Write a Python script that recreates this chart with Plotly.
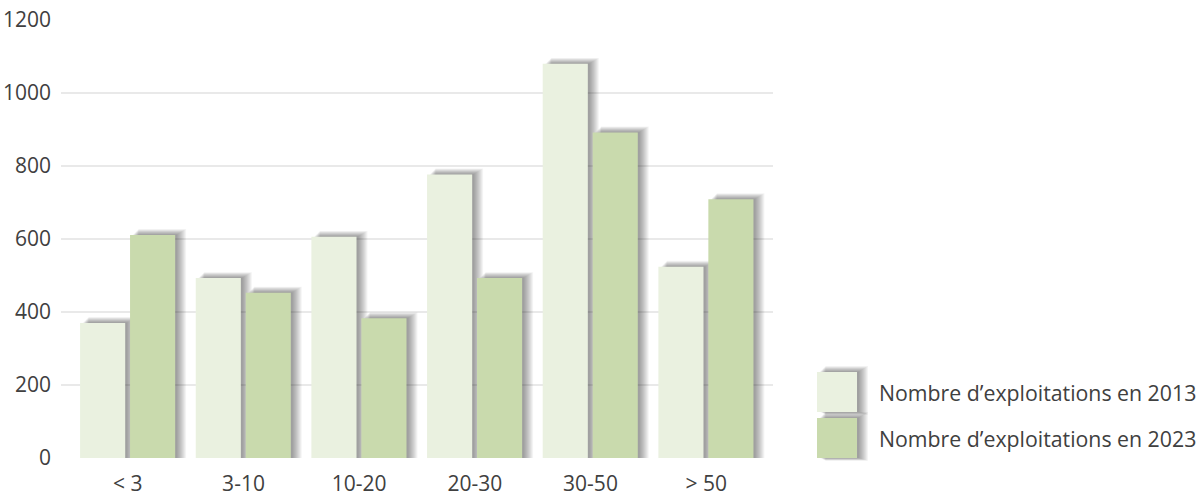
import plotly.graph_objects as go

categories = ["< 3", "3-10", "10-20", "20-30", "30-50", "> 50"]
values_2013 = [370, 493, 606, 777, 1080, 524]
values_2023 = [611, 453, 383, 493, 892, 709]
series_names = ["Nombre d’exploitations en 2013", "Nombre d’exploitations en 2023"]
y_ticks = [0, 200, 400, 600, 800, 1000, 1200]

color_2013 = "#EAF1E0"
color_2023 = "#C9DAAD"
text_color = "#404040"
font_family = "Open Sans, DejaVu Sans, sans-serif"

# geometry (layout)
W, H = 1200, 498
ml, mr, mt, mb = 61, 1200 - 773, 20, 40
plot_w = W - ml - mr
plot_h = H - mt - mb
x_lo, x_hi = -0.578, 5.578
y_lo, y_hi = 0, 1200
px_x = (x_hi - x_lo) / plot_w      # category units per pixel
px_y = (y_hi - y_lo) / plot_h      # value units per pixel

bar_w = 0.39
offsets = [-0.413, 0.019]
colors = [color_2013, color_2023]
series = [values_2013, values_2023]

fig = go.Figure()

# soft drop shadows (stacked translucent bars)
shadow_layers = [9, 8, 7, 6, 5, 4, 3, 2, 1, 0]
shadow_alpha = "rgba(0,0,0,0.045)"
for vals, off in zip(series, offsets):
    for e in shadow_layers:
        left_px = 3 + e * 0.6
        right_px = 2 + e
        top_px = 0.5 + e * 0.6
        fig.add_trace(go.Bar(
            x=categories,
            y=[v + top_px * px_y for v in vals],
            base=0,
            offset=off + left_px * px_x,
            width=bar_w + (right_px - left_px) * px_x,
            marker=dict(color=shadow_alpha, line=dict(width=0)),
            hoverinfo="skip", showlegend=False,
        ))

for vals, off, col, name in zip(series, offsets, colors, series_names):
    fig.add_trace(go.Bar(
        x=categories, y=vals, name=name,
        offset=off, width=bar_w,
        marker=dict(color=col, line=dict(width=0)),
        showlegend=False,
    ))

# custom legend (large swatches with shadow)
def px2paper_x(px):
    return (px - ml) / plot_w

def px2paper_y(py):
    return (H - mb - py) / plot_h

shapes = []
annotations = []
legend_rows = [(372, 412), (418, 458)]
sx0, sx1 = 817, 857
for (top, bot) in legend_rows:
    for e in shadow_layers:
        shapes.append(dict(
            type="rect", xref="paper", yref="paper",
            x0=px2paper_x(sx0 + 3 + e * 0.6), x1=px2paper_x(sx1 + 2 + e),
            y0=px2paper_y(bot + e * 0.3), y1=px2paper_y(top - 0.5 - e * 0.6),
            fillcolor=shadow_alpha, line=dict(width=0), layer="above",
        ))
for (top, bot), col, name in zip(legend_rows, colors, series_names):
    shapes.append(dict(
        type="rect", xref="paper", yref="paper",
        x0=px2paper_x(sx0), x1=px2paper_x(sx1),
        y0=px2paper_y(bot), y1=px2paper_y(top),
        fillcolor=col, line=dict(width=0), layer="above",
    ))
    annotations.append(dict(
        xref="paper", yref="paper",
        x=px2paper_x(877), y=px2paper_y((top + bot) / 2),
        xanchor="left", yanchor="middle", showarrow=False,
        text=name, font=dict(family=font_family, size=21.3, color=text_color),
    ))

fig.update_layout(
    width=W, height=H,
    margin=dict(l=ml, r=mr, t=mt, b=mb, autoexpand=False),
    barmode="overlay",
    plot_bgcolor="white", paper_bgcolor="white",
    font=dict(family=font_family, size=21, color=text_color),
    showlegend=False,
    shapes=shapes,
    annotations=annotations,
    xaxis=dict(
        type="category", range=[x_lo, x_hi], automargin=False,
        showgrid=False, showline=False, zeroline=False, ticks="",
        tickfont=dict(size=21, color=text_color),
        ticklabelstandoff=11,
    ),
    yaxis=dict(
        range=[y_lo, y_hi], tickvals=y_ticks, automargin=False,
        showgrid=True, gridcolor="#E9E9E9", gridwidth=1.5,
        zeroline=False, showline=False, ticks="",
        tickfont=dict(size=21, color=text_color),
        ticklabelstandoff=9,
    ),
)

fig.write_html(
    "out.html",
    config={"displayModeBar": False},
    post_script="document.body.style.margin='0';document.body.style.overflow='hidden';",
)
